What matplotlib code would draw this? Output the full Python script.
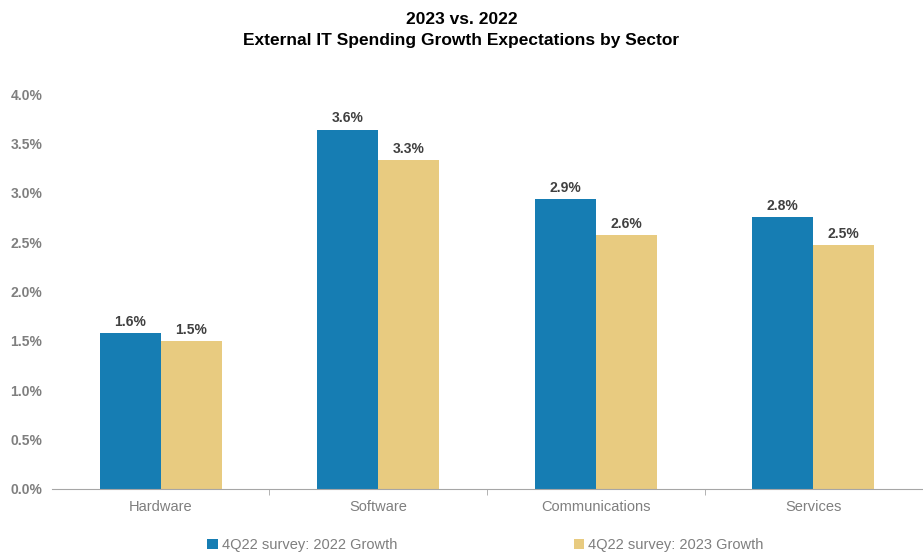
import matplotlib.pyplot as plt
import numpy as np

plt.rcParams['font.family'] = ['Liberation Sans', 'DejaVu Sans']

setores = ['Hardware', 'Software', 'Communications', 'Services']
growth_2022 = [1.58, 3.64, 2.94, 2.75]
growth_2023 = [1.50, 3.33, 2.57, 2.47]
series = ['4Q22 survey: 2022 Growth', '4Q22 survey: 2023 Growth']

azul = '#167db3'
bege = '#e8cb80'
cinza = '#7f7f7f'

fig = plt.figure(figsize=(9.23, 5.55), dpi=100)
ax = fig.add_axes([0.0563, 0.119, 0.9427, 0.7116])

x = np.arange(len(setores))
largura = 0.28

b1 = ax.bar(x - largura/2, growth_2022, largura, color=azul, label=series[0])
b2 = ax.bar(x + largura/2, growth_2023, largura, color=bege, label=series[1])

def rotulos(grafico):
    # valor em cima de cada barra
    for barra in grafico:
        h = barra.get_height()
        ax.annotate(f'{h:.1f}%', xy=(barra.get_x() + barra.get_width()/2, h),
                    xytext=(0, 3), textcoords='offset points', ha='center', va='bottom',
                    fontsize=10, fontweight='bold', color='#404040')

rotulos(b1)
rotulos(b2)

ax.set_xlim(-0.5, len(setores) - 0.5)
ax.set_ylim(0, 4.0)
ax.set_yticks(np.arange(0, 4.01, 0.5))
ax.set_yticklabels([f'{v:.1f}%' for v in np.arange(0, 4.01, 0.5)],
                   fontsize=10, fontweight='bold', color=cinza)
ax.tick_params(axis='y', length=0, pad=7)

# rótulos das categorias sem marcas, marcas nas divisões
ax.set_xticks(x)
ax.set_xticklabels(setores, fontsize=10.5, color=cinza)
ax.tick_params(axis='x', length=0, pad=8)
ax.set_xticks(np.arange(0.5, len(setores) - 0.5, 1), minor=True)
ax.tick_params(axis='x', which='minor', length=4, color='#a6a6a6', direction='out')

for lado in ['top', 'right', 'left']:
    ax.spines[lado].set_visible(False)
ax.spines['bottom'].set_color('#a6a6a6')

fig.text(0.5, 0.978, '2023 vs. 2022\nExternal IT Spending Growth Expectations by Sector',
         ha='center', va='top', fontsize=12.5, fontweight='bold', linespacing=1.45)

fig.legend(handles=[b1, b2], loc='center', bbox_to_anchor=(0.526, 0.018), ncol=2,
           frameon=False, fontsize=10.5, labelcolor=cinza, handlelength=0.7,
           handleheight=0.7, handletextpad=0.3, columnspacing=12.1)

fig.savefig('out.png', dpi=100)
